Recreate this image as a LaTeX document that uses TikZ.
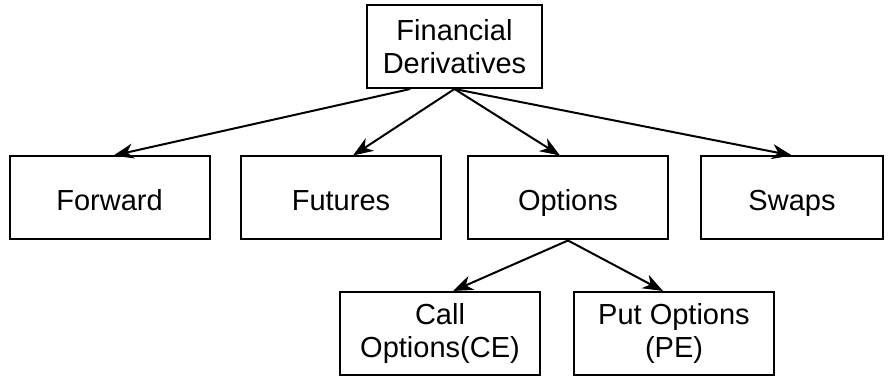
\documentclass[tikz,border=0pt]{standalone}
\usepackage{fontspec}
\setmainfont{Liberation Sans}
\usetikzlibrary{arrows.meta,positioning,calc}

\begin{document}
\begin{tikzpicture}[
    x=0.5pt, y=-0.5pt,
    >={Stealth[length=10pt,width=7.5pt,inset=3pt]},
    block/.style={rectangle, draw, line width=1pt, minimum height=41.5pt,
                  minimum width=100pt, align=center,
                  font=\fontsize{14.5}{16.5}\selectfont},
    single/.style={block, text height=12.5pt, text depth=0pt},
    arr/.style={->, line width=1pt}
]
    \useasboundingbox (0,0) rectangle (891,378);

    \node[block, minimum width=87.5pt] (fin) at (454.5,46.5) {Financial\\Derivatives};

    \node[single] (fwd)  at (109.5,198) {Forward};
    \node[single] (fut)  at (341,198)   {Futures};
    \node[single] (opt)  at (568,198)   {Options};
    \node[single, minimum width=91pt] (swp) at (792,198) {Swaps};

    \node[block] (call) at (440,333.5) {Call\\Options(CE)};
    \node[block] (put)  at (674,333.5) {Put Options\\(PE)};

    % top level
    \draw[arr] ($(fin.south)!0.5!(fin.south west)$) -- ([xshift=2pt]fwd.north);
    \draw[arr] (fin.south) -- ([xshift=6pt]fut.north);
    \draw[arr] (fin.south) -- ([xshift=-4pt]opt.north);
    \draw[arr] (fin.south) -- (swp.north);

    % options split
    \draw[arr] (opt.south) -- ([xshift=6.5pt]call.north);
    \draw[arr] (opt.south) -- ([xshift=-5.5pt]put.north);
\end{tikzpicture}
\end{document}
